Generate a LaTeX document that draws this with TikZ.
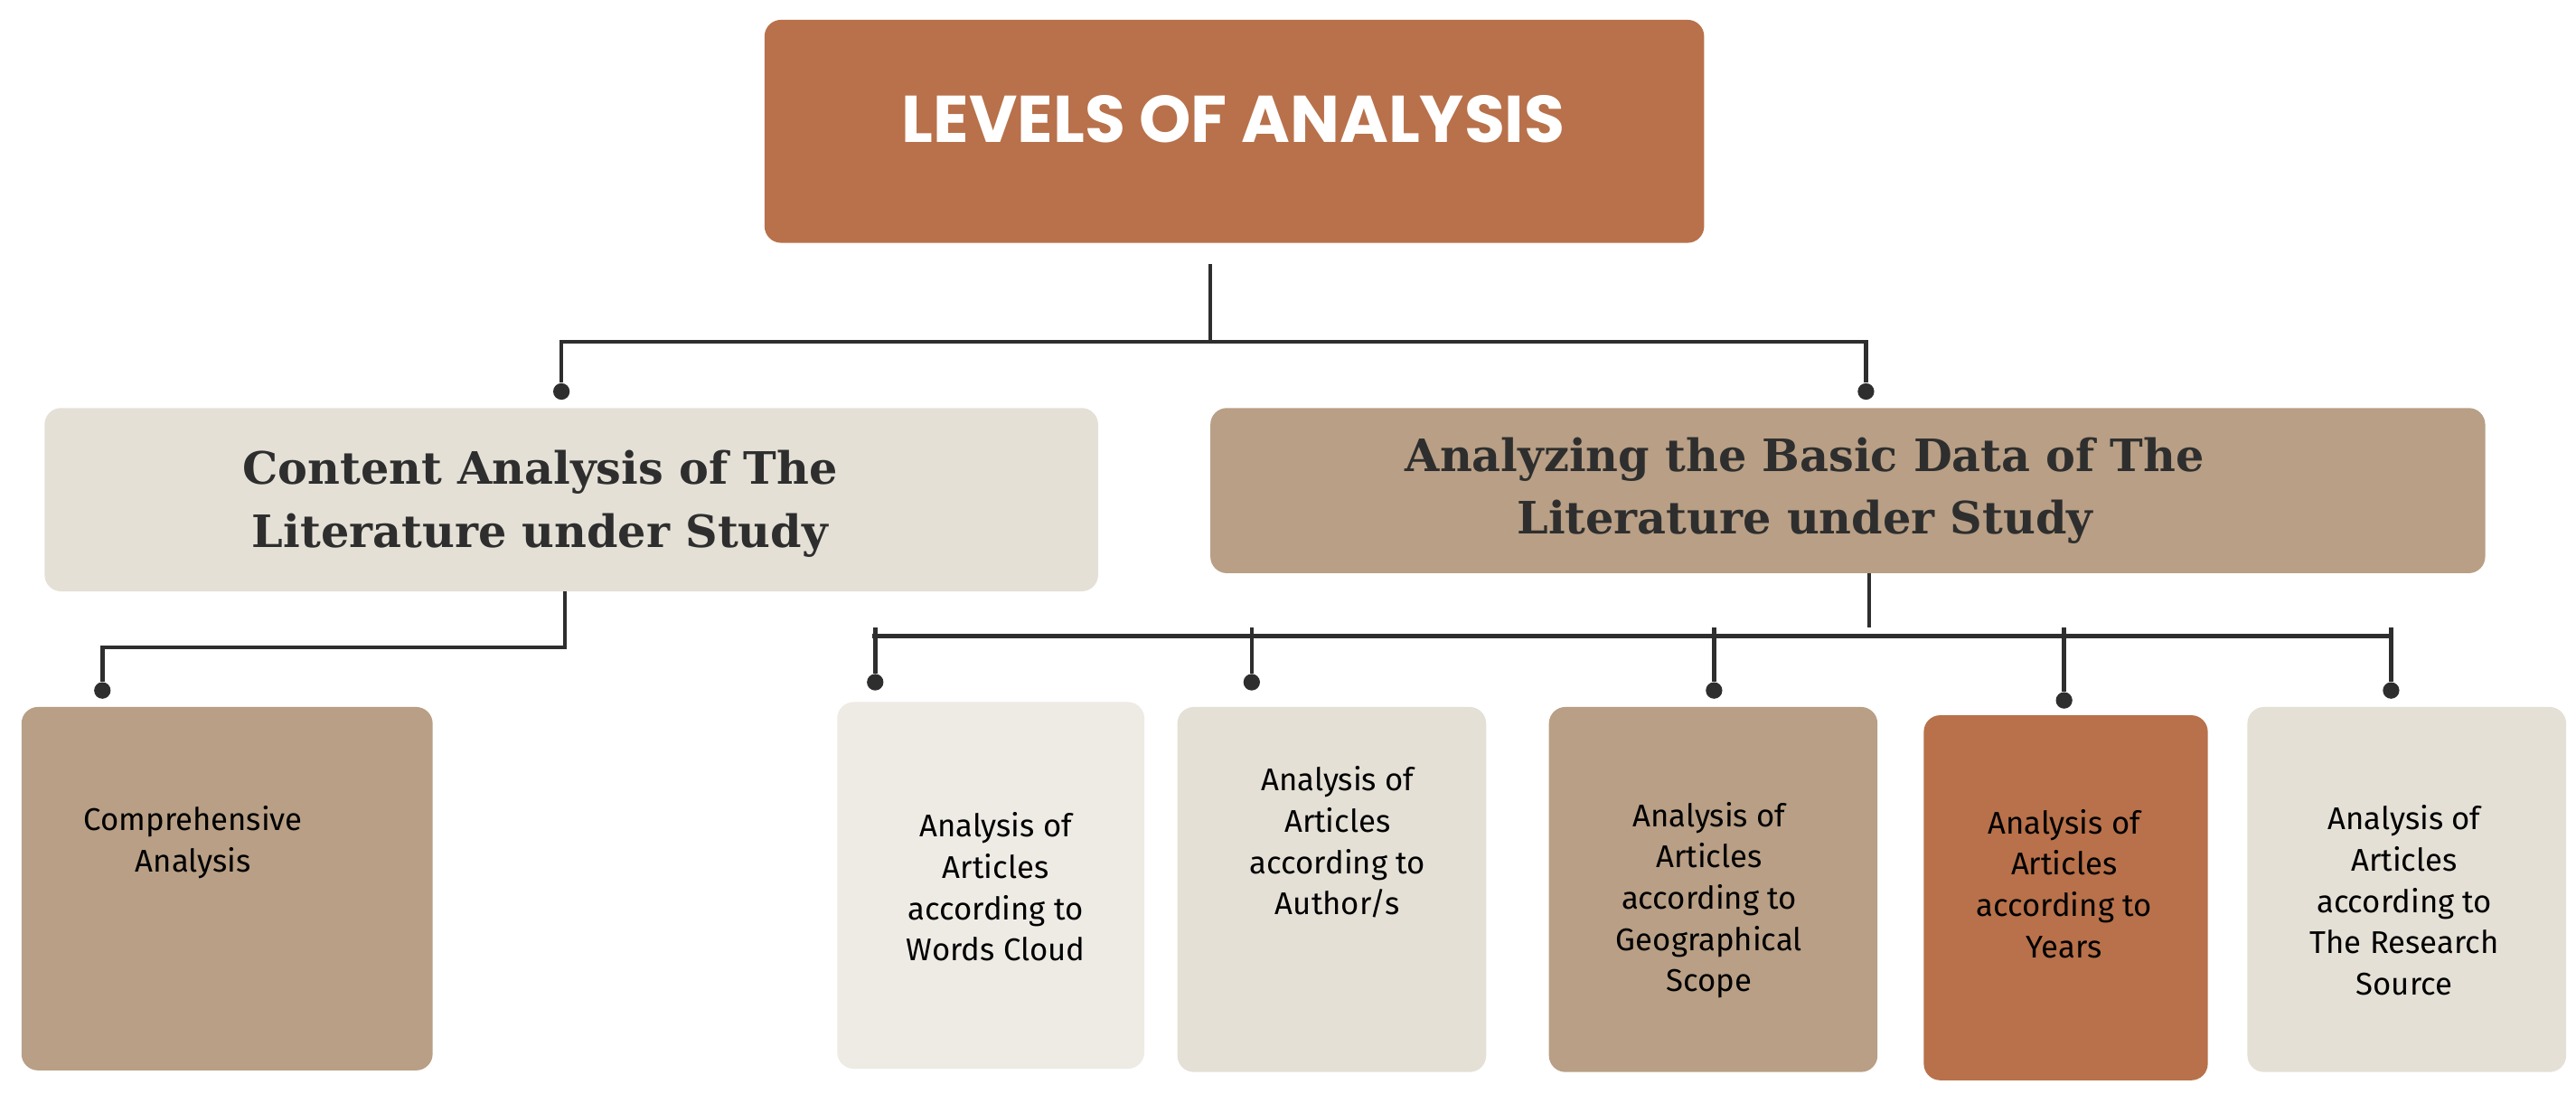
\documentclass[tikz,border=0pt]{standalone}
\usepackage{fontspec}
\setmainfont{Fira Sans}
\newfontfamily\hdr{Poppins}
\newfontfamily\srf{DejaVu Serif}
\definecolor{rust}{HTML}{B8714A}
\definecolor{tan}{HTML}{B89F85}
\definecolor{light}{HTML}{E4E0D6}
\definecolor{pale}{HTML}{EEEBE5}
\definecolor{ink}{HTML}{2E2E2E}
\begin{document}
\begin{tikzpicture}[x=1pt,y=-1pt,
 box/.style={rounded corners=10pt,inner sep=0pt},
 ln/.style={draw=ink,line width=2.5pt},
 dot/.style={circle,fill=ink,inner sep=0pt,minimum size=10pt},
 sm/.style={align=center,font=\fontsize{19}{25}\selectfont,text=black}]
\useasboundingbox (0,0) rectangle (1560,662);
\fill[white] (0,0) rectangle (1560,662);
\fill[rust,box] (463,12) rectangle (1032,147);
\node[font=\hdr\bfseries\fontsize{40}{46}\selectfont,text=white] (top) at (747,72) {LEVELS OF ANALYSIS};
\fill[light,box] (27,247) rectangle (665,358);
\node[font=\srf\bfseries\fontsize{27}{38}\selectfont,text=ink,align=center] (L) at (327,305) {Content Analysis of The\\Literature under Study};
\fill[tan,box] (733,247) rectangle (1505,347);
\node[font=\srf\bfseries\fontsize{27}{38}\selectfont,text=ink,align=center] (R) at (1093,297) {Analyzing the Basic Data of The\\Literature under Study};
\fill[tan,box] (13,428) rectangle (262,648);
\node[sm] (c) at (117,510) {Comprehensive\\Analysis};
\fill[pale,box] (507,425) rectangle (693,647);
\node[sm] (b1) at (603,537) {Analysis of\\Articles\\according to\\Words Cloud};
\fill[light,box] (713,428) rectangle (900,649);
\node[sm] (b2) at (810,510) {Analysis of\\Articles\\according to\\Author/s};
\fill[tan,box] (938,428) rectangle (1137,649);
\node[sm] (b3) at (1035,545) {Analysis of\\Articles\\according to\\Geographical\\Scope};
\fill[rust,box] (1165,433) rectangle (1337,654);
\node[sm] (b4) at (1250,535) {Analysis of\\Articles\\according to\\Years};
\fill[light,box] (1361,428) rectangle (1554,649);
\node[sm] (b5) at (1456,545) {Analysis of\\Articles\\according to\\The Research\\Source};
% connectors
\coordinate (t0) at (733,160); \coordinate (t1) at (733,207);
\node[dot] (d1) at (340,237) {}; \node[dot] (d2) at (1130,237) {};
\draw[ln] (t0) -- (t1); \draw[ln] (d1) |- (t1) -| (d2);
\coordinate (l0) at (342,358); \node[dot] (dc) at (62,418) {};
\draw[ln] (l0) |- (62,392) -- (dc);
\coordinate (r0) at (1132,347); \coordinate (r1) at (1132,380);
\draw[ln] (r0) -- (r1);
\draw[ln] (528,385) -- (1448,385);
\foreach \x/\y [count=\i] in {530/413,758/413,1038/418,1250/424,1448/418}{
 \node[dot] (e\i) at (\x,\y) {};
 \draw[ln] (\x,380) -- (e\i);}
\end{tikzpicture}
\end{document}
